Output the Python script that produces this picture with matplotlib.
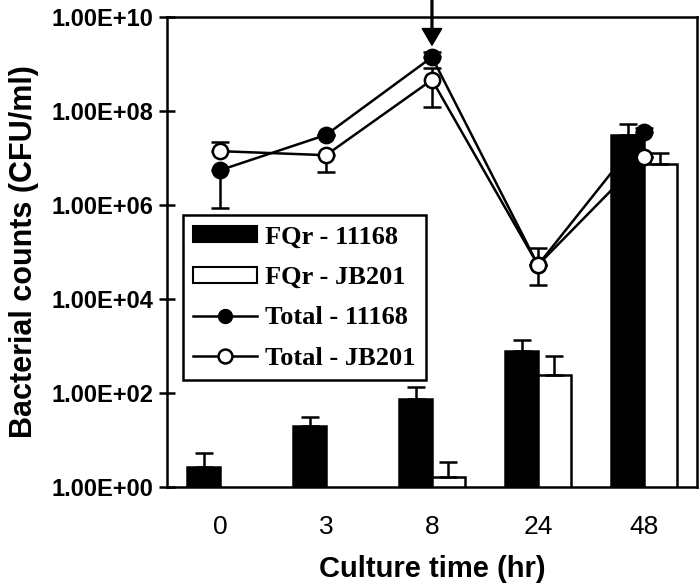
import matplotlib
matplotlib.use("Agg")
import matplotlib.pyplot as plt
import numpy as np

# culture time categories
times = ["0", "3", "8", "24", "48"]

# FQr bars (CFU/ml) and top of the error bar
fqr_11168 = [2.7, 20, 74, 780, 3.1e7]
fqr_11168_top = [5.3, 31, 134, 1340, 5.3e7]
fqr_jb201 = [np.nan, np.nan, 1.6, 240, 7.4e6]
fqr_jb201_top = [np.nan, np.nan, 3.4, 610, 1.3e7]

# total counts (lines) with error bounds
total_11168 = [5.5e6, 3.1e7, 1.4e9, 5.3e4, 3.6e7]
total_11168_low = [8.7e5, 3.1e7, 1.4e9, 5.3e4, 3.6e7]
total_11168_high = [5.5e6, 3.1e7, 1.8e9, 5.3e4, 4.3e7]
total_jb201 = [1.4e7, 1.15e7, 4.6e8, 5.3e4, 1.05e7]
total_jb201_low = [1.4e7, 5.0e6, 1.2e8, 2.0e4, 1.05e7]
total_jb201_high = [2.2e7, 1.15e7, 8.1e8, 1.2e5, 1.05e7]

yticks = [1e0, 1e2, 1e4, 1e6, 1e8, 1e10]
ytick_labels = ["1.00E+00", "1.00E+02", "1.00E+04", "1.00E+06", "1.00E+08", "1.00E+10"]

x = np.arange(len(times))
w = 0.31

fig = plt.figure(figsize=(7, 5.85), dpi=100)
ax = fig.add_axes([0.2386, 0.1675, 0.757, 0.8034])

a = np.array
# bars
ax.bar(x - w/2, fqr_11168, w, color="black", edgecolor="black", lw=1.8, zorder=2)
ax.bar(x + w/2, fqr_jb201, w, color="white", edgecolor="black", lw=1.8, zorder=2)
ax.errorbar(x - w/2, fqr_11168, yerr=[np.zeros(5), a(fqr_11168_top) - a(fqr_11168)],
            fmt="none", ecolor="black", elinewidth=1.8, capsize=6.5, capthick=1.8, zorder=2)
ax.errorbar(x + w/2, fqr_jb201, yerr=[np.zeros(5), a(fqr_jb201_top) - a(fqr_jb201)],
            fmt="none", ecolor="black", elinewidth=1.8, capsize=6.5, capthick=1.8, zorder=2)

# lines
ax.errorbar(x, total_11168, yerr=[a(total_11168) - a(total_11168_low), a(total_11168_high) - a(total_11168)],
            fmt="none", ecolor="black", elinewidth=1.8, capsize=6.5, capthick=1.8, zorder=3)
ax.errorbar(x, total_jb201, yerr=[a(total_jb201) - a(total_jb201_low), a(total_jb201_high) - a(total_jb201)],
            fmt="none", ecolor="black", elinewidth=1.8, capsize=6.5, capthick=1.8, zorder=3)
ax.plot(x, total_11168, color="black", lw=1.8, marker="o", ms=11, mfc="black", mec="black", mew=1.8, zorder=4)
ax.plot(x, total_jb201, color="black", lw=1.8, marker="o", ms=11, mfc="white", mec="black", mew=1.8, zorder=5)

# legend
h1 = plt.Rectangle((0, 0), 1, 1, facecolor="black", edgecolor="black", lw=1.5)
h2 = plt.Rectangle((0, 0), 1, 1, facecolor="white", edgecolor="black", lw=1.5)
h3, = ax.plot([], [], color="black", lw=1.8, marker="o", ms=10, mfc="black", mec="black")
h4, = ax.plot([], [], color="black", lw=1.8, marker="o", ms=10, mfc="white", mec="black", mew=1.8)
leg = ax.legend([h1, h2, h3, h4], ["FQr - 11168", "FQr - JB201", "Total - 11168", "Total - JB201"],
                loc="upper left", bbox_to_anchor=(0.03, 0.5787), borderaxespad=0,
                fancybox=False, framealpha=1, edgecolor="black",
                handlelength=2.4, handleheight=0.57, labelspacing=0.66,
                handletextpad=0.3, borderpad=0.4,
                prop={"family": "Liberation Serif", "weight": "bold", "size": 19})
leg.get_frame().set_linewidth(1.8)
leg.set_zorder(6)

# arrow at 8 hr
ax.annotate("", xy=(2, 10**9.4), xycoords="data", xytext=(2, 1.04),
            textcoords=("data", "axes fraction"),
            arrowprops=dict(facecolor="black", edgecolor="black", width=1.3, headwidth=14, headlength=12, shrink=0),
            annotation_clip=False)

ax.set_yscale("log")
ax.set_ylim(1, 1e10)
ax.set_xlim(-0.5, 4.5)
ax.set_yticks(yticks)
ax.set_yticklabels(ytick_labels, fontsize=17, fontweight="bold", family="Liberation Sans")
ax.yaxis.set_minor_locator(matplotlib.ticker.NullLocator())
ax.set_xticks(x)
ax.set_xticklabels(times, fontsize=19, family="Liberation Sans")
ax.tick_params(axis="y", direction="inout", length=11, width=1.8, pad=4)
ax.tick_params(axis="x", length=0, pad=20)
for s in ax.spines.values():
    s.set_linewidth(1.8)

ax.set_xlabel("Culture time (hr)", fontsize=21, fontweight="bold", family="Liberation Sans", labelpad=12)
ax.set_ylabel("Bacterial counts (CFU/ml)", fontsize=22, fontweight="bold", family="Liberation Sans", labelpad=9)

plt.savefig("out.png", dpi=100)
